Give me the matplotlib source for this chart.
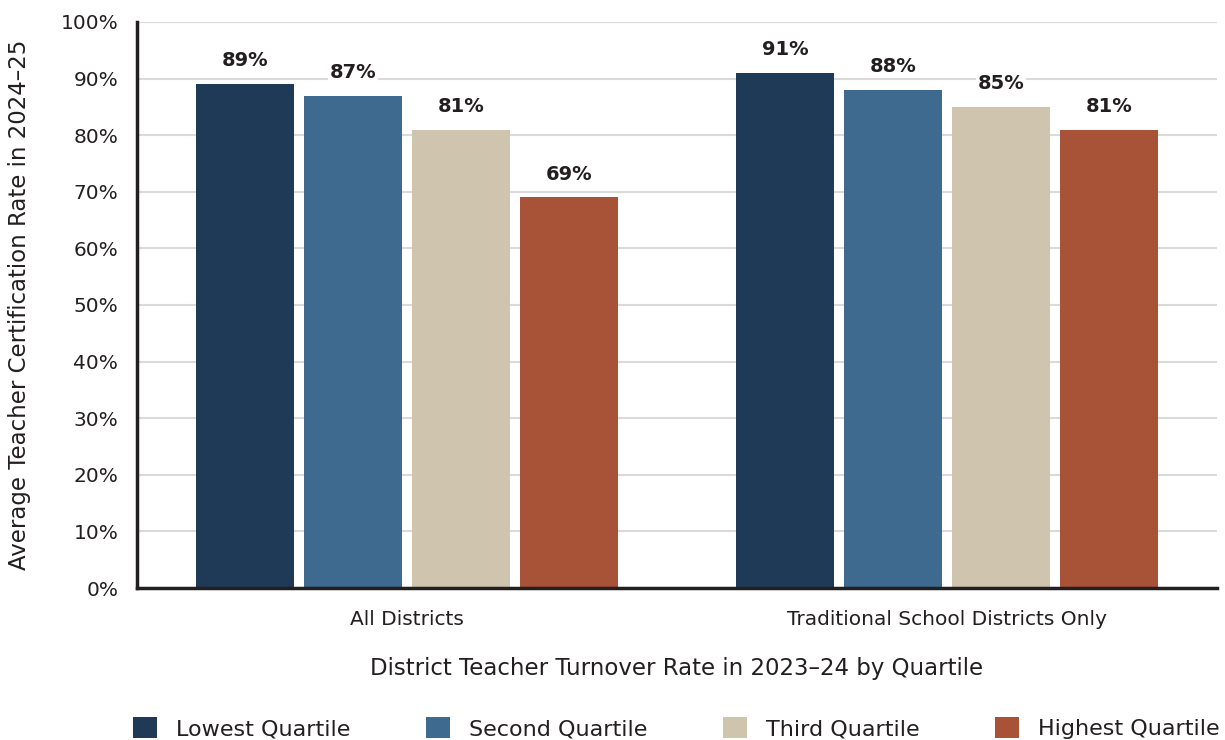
import matplotlib
matplotlib.use('Agg')
import matplotlib.pyplot as plt
import numpy as np

groups = ['All Districts', 'Traditional School Districts Only']
quartiles = ['Lowest Quartile', 'Second Quartile', 'Third Quartile', 'Highest Quartile']
lowest = [89, 91]
second = [87, 88]
third = [81, 85]
highest = [69, 81]
colors = ['#1f3a56', '#3e6a90', '#cfc4ae', '#a85337']
yticks = list(range(0, 101, 10))

plt.rcParams['font.family'] = ['DejaVu Sans']
text_color = '#231f20'

fig = plt.figure(figsize=(12.25, 7.4), dpi=100)
ax = fig.add_axes([0.1118, 0.2054, 0.8817, 0.7649])

x = np.arange(len(groups))
width = 0.1815
step = 0.2
series = [lowest, second, third, highest]
for i, (vals, name, c) in enumerate(zip(series, quartiles, colors)):
    pos = x + (i - 1.5) * step
    bars = ax.bar(pos, vals, width=width, color=c, label=name, zorder=3)
    for b, v in zip(bars, vals):
        ax.annotate(f'{v:.0f}%', (b.get_x() + b.get_width() / 2, v),
                    xytext=(0, 10), textcoords='offset points',
                    ha='center', va='bottom', fontsize=14, fontweight='bold',
                    color=text_color, zorder=4,
                    bbox=dict(boxstyle='square,pad=0.1', fc='white', ec='none'))

ax.set_xlim(-0.5, 1.5)
ax.set_ylim(0, 100)
ax.set_yticks(yticks)
ax.set_yticklabels([f'{t}%' for t in yticks], fontsize=14.5, color=text_color)
ax.set_xticks(x)
ax.set_xticklabels(groups, fontsize=14.5, color=text_color)
ax.tick_params(axis='y', length=0, pad=13.5)
ax.tick_params(axis='x', length=0, pad=16)
ax.yaxis.grid(True, color='#dadada', linewidth=1.5, zorder=0)
ax.set_axisbelow(True)

for side in ['top', 'right']:
    ax.spines[side].set_visible(False)
for side in ['left', 'bottom']:
    ax.spines[side].set_linewidth(2.5)
    ax.spines[side].set_color(text_color)
    ax.spines[side].set_zorder(5)

ax.set_xlabel('District Teacher Turnover Rate in 2023\u201324 by Quartile',
              fontsize=16.5, color=text_color, labelpad=20)
ax.set_ylabel('Average Teacher Certification Rate in 2024\u201325',
              fontsize=16.5, color=text_color, labelpad=21)

fig.legend(loc='center', bbox_to_anchor=(0.552, 0.016), ncol=4, frameon=False,
           fontsize=16, handlelength=1.08, handleheight=1.08, handletextpad=0.86,
           columnspacing=3.4, labelcolor=text_color)

fig.savefig('out.png', dpi=100)
